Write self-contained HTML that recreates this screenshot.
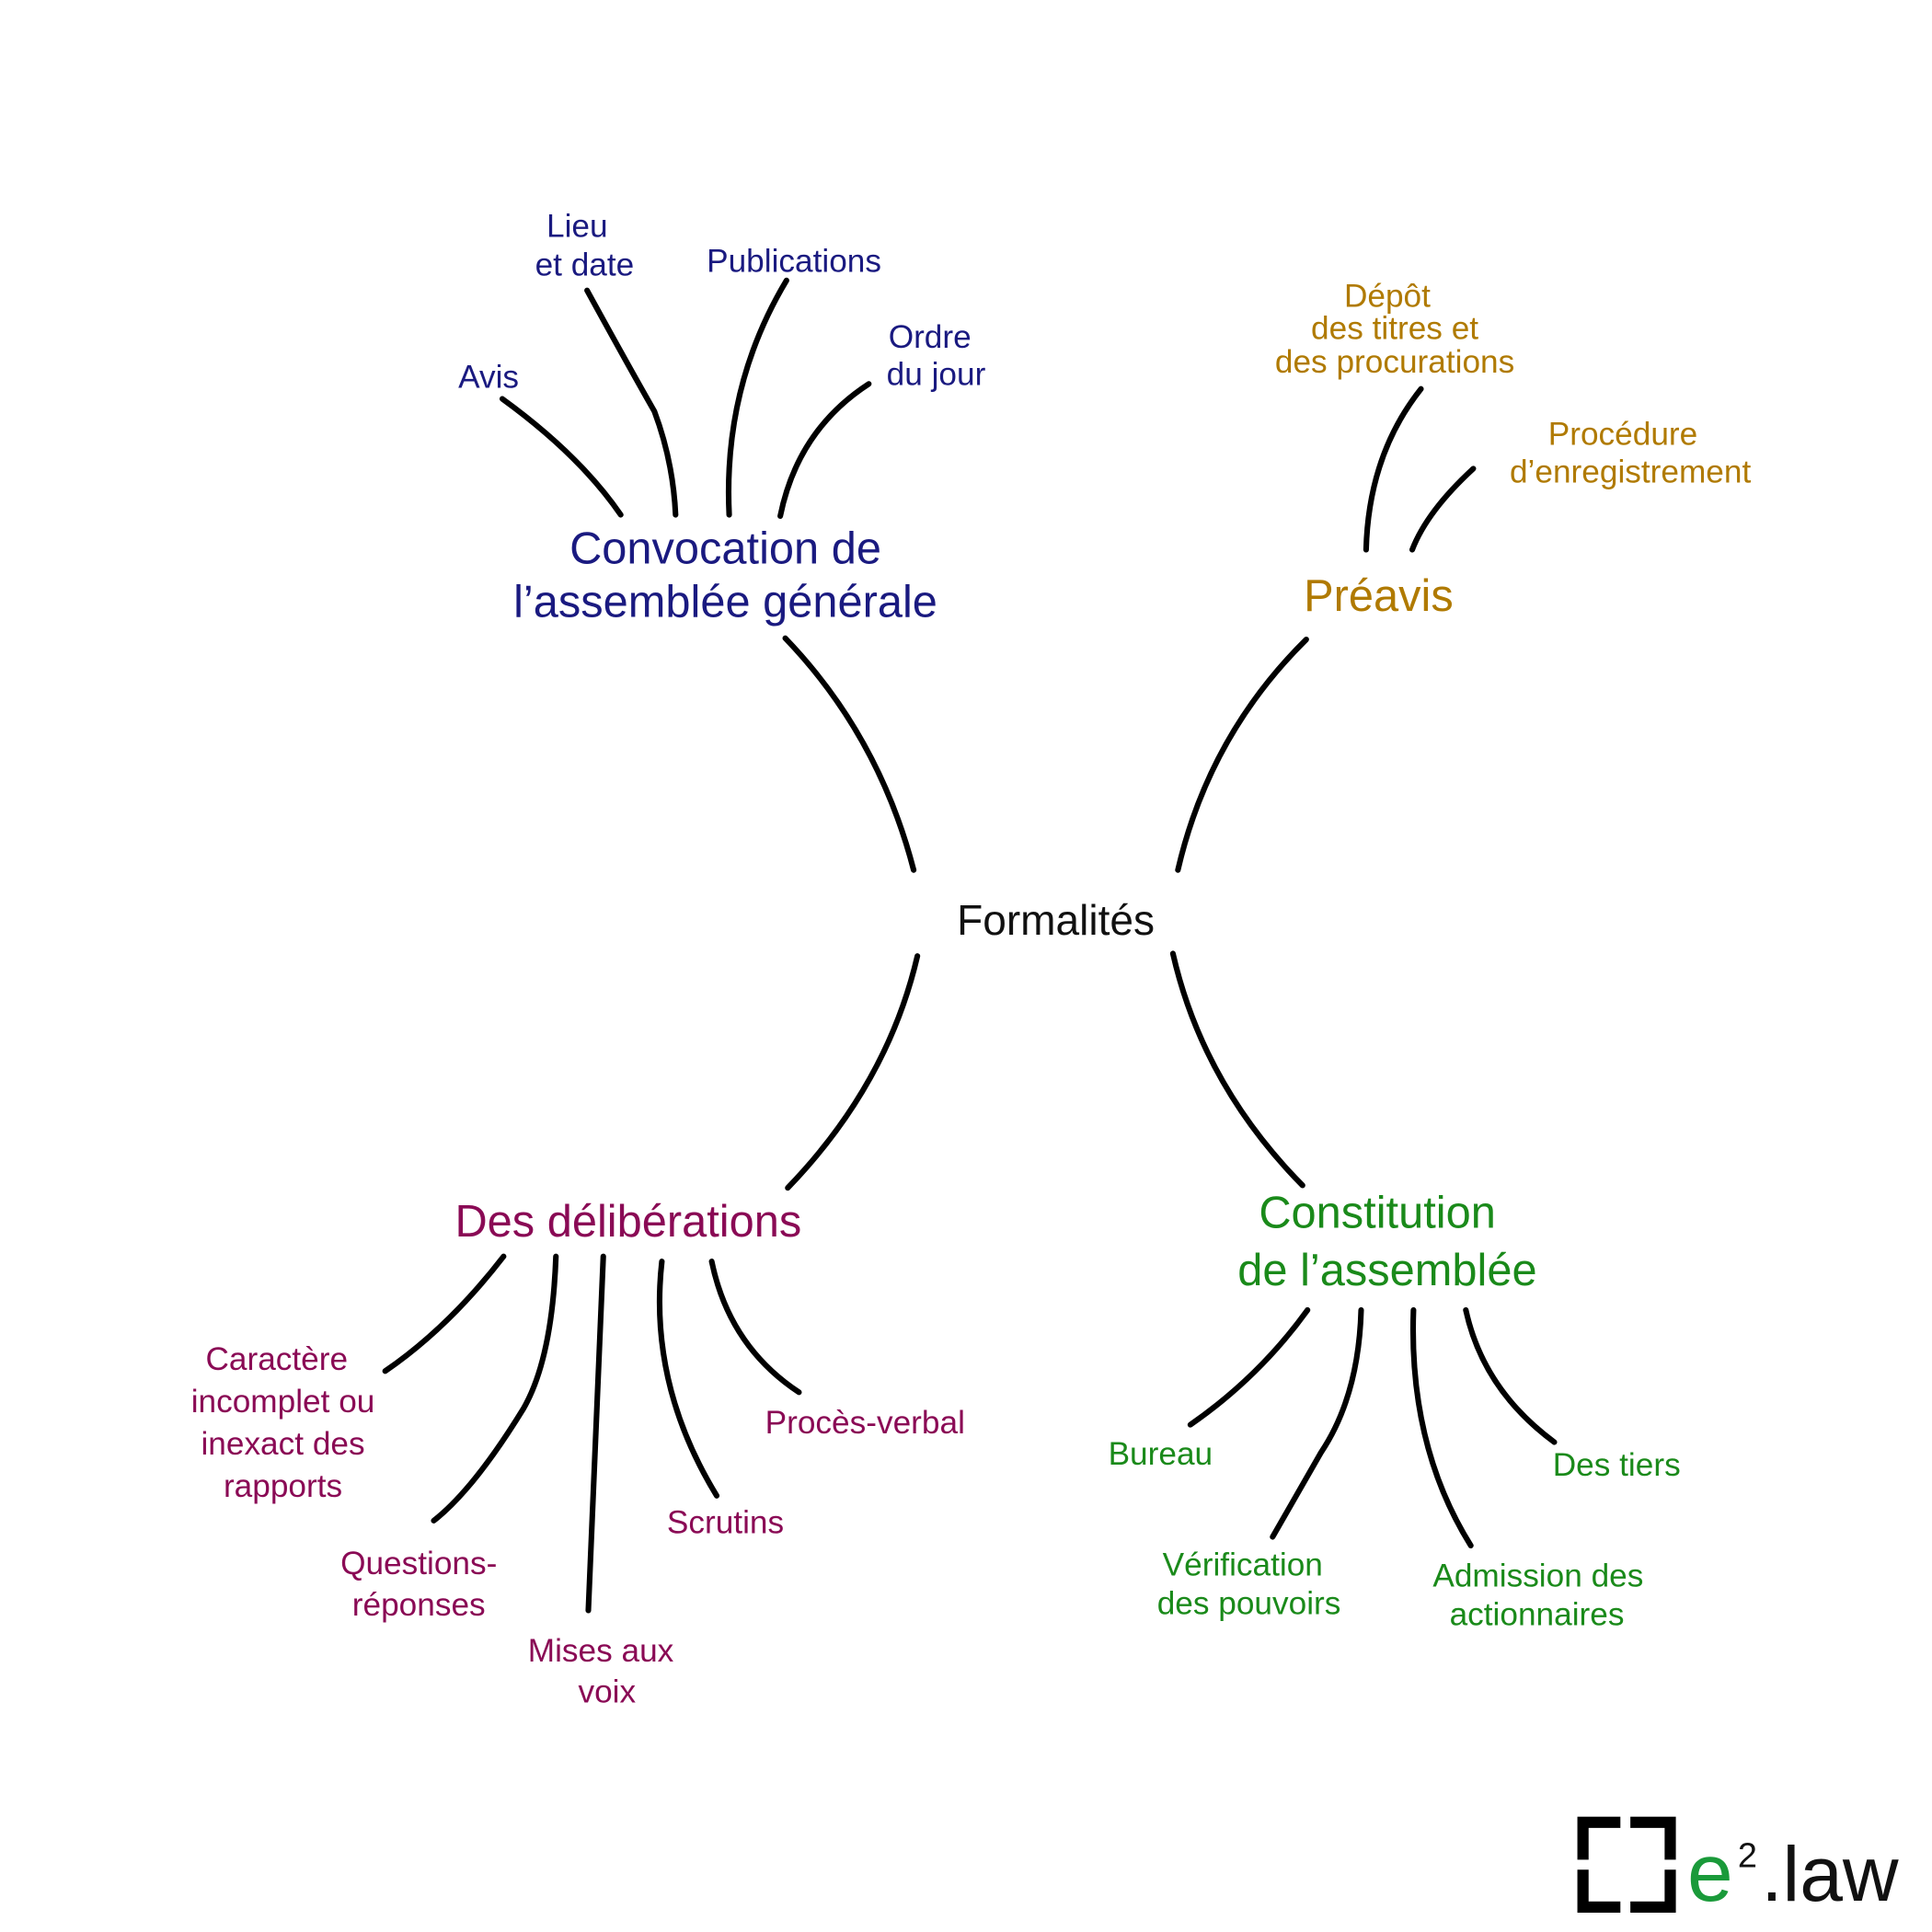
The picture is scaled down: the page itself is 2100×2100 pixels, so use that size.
<!DOCTYPE html>
<html><head><meta charset="utf-8"><style>
html,body{margin:0;padding:0;background:#fff}
svg{display:block}
text{font-family:"Liberation Sans",sans-serif;text-anchor:middle}
</style></head><body>
<svg width="2100" height="2100" viewBox="0 0 1550 1550" xmlns="http://www.w3.org/2000/svg">
<g fill="none" stroke="#000" stroke-width="4.5" stroke-linecap="round">
<path d="M733 698 Q705 590 630 512"/>
<path d="M945 698 Q970 590 1048 513"/>
<path d="M736 767 Q712 870 632 953"/>
<path d="M941 765 Q965 870 1045 951"/>
<path d="M403 320 Q465 365 498 413"/>
<path d="M471 233 Q505 295 525 330 Q540 370 542 413"/>
<path d="M631 225 Q580 310 585 413"/>
<path d="M697 308 Q640 345 626 414"/>
<path d="M1140 312 Q1098 365 1096 441"/>
<path d="M1182 376 Q1145 410 1133 441"/>
<path d="M404 1008 Q360 1065 309 1100"/>
<path d="M446 1008 Q443 1090 420 1130 Q380 1195 348 1220"/>
<path d="M484 1008 L472 1292"/>
<path d="M531 1012 Q520 1110 575 1200"/>
<path d="M571 1012 Q585 1080 641 1117"/>
<path d="M1049 1051 Q1010 1105 955 1143"/>
<path d="M1092 1051 Q1090 1120 1060 1165 Q1040 1200 1021 1233"/>
<path d="M1134 1051 Q1130 1160 1180 1240"/>
<path d="M1176 1051 Q1190 1115 1247 1157"/>
</g>
<text x="847" y="750" font-size="34" fill="#111">Formalités</text>
<g fill="#1a1a80">
<text x="582" y="452" font-size="36">Convocation de</text>
<text x="582" y="495" font-size="36">l’assemblée générale</text>
<g font-size="26">
<text x="392" y="311">Avis</text>
<text x="463" y="190">Lieu</text>
<text x="469" y="221">et date</text>
<text x="637" y="218">Publications</text>
<text x="746" y="279">Ordre</text>
<text x="751" y="309">du jour</text>
</g></g>
<g fill="#b07a00">
<text x="1106" y="490" font-size="36">Préavis</text>
<g font-size="26">
<text x="1113" y="246">Dépôt</text>
<text x="1119" y="272">des titres et</text>
<text x="1119" y="299">des procurations</text>
<text x="1302" y="357">Procédure</text>
<text x="1308" y="387">d’enregistrement</text>
</g></g>
<g fill="#8a0a55">
<text x="504" y="992" font-size="36">Des délibérations</text>
<g font-size="26">
<text x="222" y="1099">Caractère</text>
<text x="227" y="1133">incomplet ou</text>
<text x="227" y="1167">inexact des</text>
<text x="227" y="1201">rapports</text>
<text x="336" y="1263">Questions-</text>
<text x="336" y="1296">réponses</text>
<text x="482" y="1333">Mises aux</text>
<text x="487" y="1366">voix</text>
<text x="582" y="1230">Scrutins</text>
<text x="694" y="1150">Procès-verbal</text>
</g></g>
<g fill="#1a8a1a">
<text x="1105" y="985" font-size="36">Constitution</text>
<text x="1113" y="1031" font-size="36">de l’assemblée</text>
<g font-size="26">
<text x="931" y="1175">Bureau</text>
<text x="997" y="1264">Vérification</text>
<text x="1002" y="1295">des pouvoirs</text>
<text x="1234" y="1273">Admission des</text>
<text x="1233" y="1304">actionnaires</text>
<text x="1297" y="1184">Des tiers</text>
</g></g>
<g>
<rect x="1270" y="1462" width="70" height="68" fill="none" stroke="#000" stroke-width="9"/>
<rect x="1300" y="1456" width="8" height="14" fill="#fff"/>
<rect x="1300" y="1522" width="8" height="14" fill="#fff"/>
<rect x="1264" y="1492" width="14" height="8" fill="#fff"/>
<rect x="1332" y="1492" width="14" height="8" fill="#fff"/>
<text x="1372" y="1525" font-size="66" fill="#1a9a3a">e</text>
<text x="1402" y="1498" font-size="28" fill="#111">2</text>
<text x="1468" y="1525" font-size="62" fill="#111">.law</text>
</g>
</svg>
</body></html>
